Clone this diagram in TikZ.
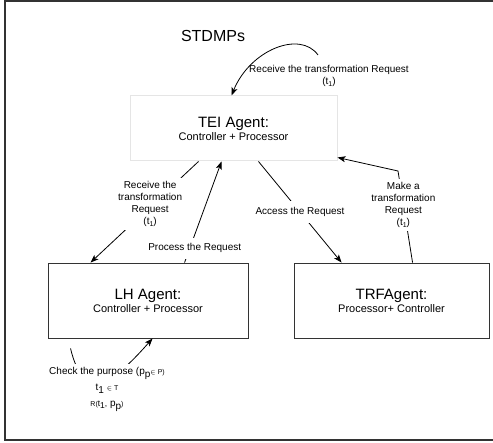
\documentclass[tikz,border=0pt]{standalone}
\usepackage{fontspec}
\setmainfont{Liberation Sans}
\usetikzlibrary{arrows.meta,calc}
\newcommand\mysmall{\fontsize{7}{8}\selectfont}
\tikzset{
  frameline/.style={line width=1.3pt, draw=black!80},
  agentbox/.style={draw=black!80, line width=0.9pt, align=center, inner sep=0pt},
  teibox/.style={draw=black!10, line width=1pt, align=center, inner sep=0pt},
  conn/.style={draw=black, line width=0.8pt, -{Stealth[length=8pt,width=6pt,inset=2pt]}},
  lbl/.style={font=\fontsize{10}{12.3}\selectfont, align=center, inner sep=2pt},
  lblbg/.style={lbl, fill=white, inner xsep=2pt, inner ysep=6pt},
  mlbg/.style={lbl, fill=white, inner sep=3pt}
}
\begin{document}
\begin{tikzpicture}[x=1pt,y=-1pt]
\useasboundingbox (0,0) rectangle (493,443);
\fill[white] (0,0) rectangle (493,443);
% outer frame
\draw[frameline] (497,1) -- (5,1) -- (5,440) -- (497,440);

\node[font=\fontsize{16}{18}\selectfont] (title) at (213,36) {STDMPs};

% boxes
\node[teibox, minimum width=207pt, minimum height=65pt] (tei) at (233.5,128.5)
  {{\fontsize{15}{15}\selectfont TEI Agent:}\\[1pt]{\fontsize{11}{13}\selectfont Controller + Processor}};
\node[agentbox, minimum width=200pt, minimum height=75pt] (lh) at (148,300.5)
  {{\fontsize{15}{15}\selectfont LH Agent:}\\[1pt]{\fontsize{11}{13}\selectfont Controller + Processor}};
\node[agentbox, minimum width=195pt, minimum height=75pt] (trf) at (391.5,300.5)
  {{\fontsize{15}{15}\selectfont TRFAgent:}\\[1pt]{\fontsize{11}{13}\selectfont Processor+ Controller}};

% top self request
\coordinate (ts) at (318,55);
\draw[conn] (ts) .. controls (300,30) and (250,50) .. ($(tei.north west)+(102,0)$);
\node[lbl] (lblTop) at (329,76) {Receive the transformation Request\\(t\raisebox{-2pt}{\scriptsize 1})};

% TEI -> LH
\draw[conn] ($(tei.south west)+(69,0)$) -- node[mlbg, pos=0.42, xshift=-3pt] (lblRecv)
  {Receive the\\transformation\\Request\\(t\raisebox{-2pt}{\scriptsize 1})} ($(lh.north west)+(43,0)$);

% LH -> TEI
\draw[conn] ($(lh.north west)+(137,0)$) -- node[lblbg, pos=0.14, xshift=5pt] (lblProc)
  {Process the Request} ($(tei.south west)+(92,0)$);

% TEI -> TRF
\draw[conn] ($(tei.south west)+(129,0)$) -- node[lblbg, midway] (lblAcc)
  {Access the Request} ($(trf.north west)+(48,0)$);

% TRF -> TEI
\coordinate (mk) at (398,171);
\draw[conn] ($(trf.north west)+(119,0)$) -- node[mlbg, pos=0.63] (lblMake)
  {Make a\\transformation\\Request\\(t\raisebox{-2pt}{\scriptsize 1})} (mk) -- ($(tei.south east)+(0,-4)$);

% LH self loop
\coordinate (ls) at ($(lh.south west)+(23,10)$);
\draw[conn] (ls) .. controls (85,410) and (120,375) .. ($(lh.south west)+(105,0)$);
\node[mlbg, font=\fontsize{10}{16}\selectfont] (lblLoop) at (107,389)
  {Check the purpose (p\raisebox{-3pt}{p}{\mysmall$\in$ P)}\\
   t\raisebox{-3pt}{1} {\mysmall$\in$ T}\\
   {\mysmall R(}{\fontsize{8.5}{9}\selectfont t\raisebox{-2pt}{1},} p\raisebox{-3pt}{p}{\mysmall)}};
\end{tikzpicture}
\end{document}
